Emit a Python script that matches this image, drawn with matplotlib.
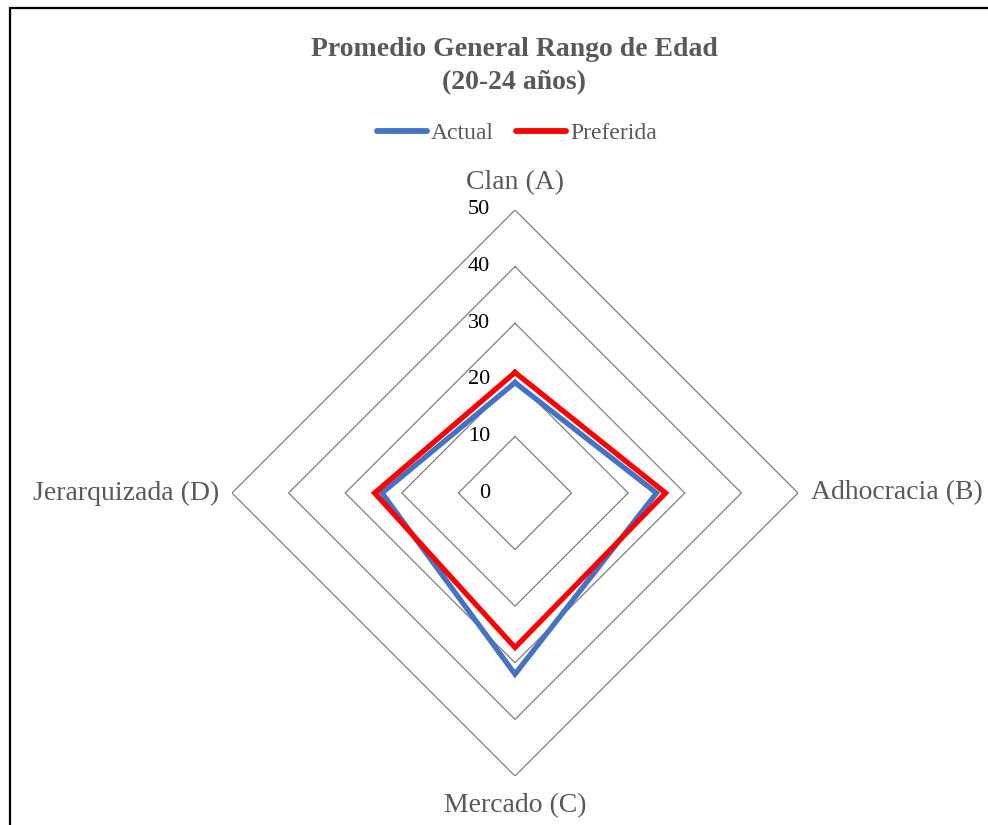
import numpy as np
import matplotlib
matplotlib.use("Agg")
import matplotlib.pyplot as plt
from matplotlib.lines import Line2D
from matplotlib.patches import Rectangle

categories = ["Clan (A)", "Adhocracia (B)", "Mercado (C)", "Jerarquizada (D)"]
actual = [19.5, 25, 32, 23.5]
preferida = [21.3, 26.6, 27.3, 24.8]
rticks = [0, 10, 20, 30, 40, 50]
title = "Promedio General Rango de Edad\n(20-24 años)"

plt.rcParams['font.family'] = ['Liberation Serif', 'DejaVu Serif']
gray = '#595959'

fig = plt.figure(figsize=(9.88, 8.25), dpi=100)
fig.patch.set_facecolor('white')

W, H = 988, 825
cx, cy, R = 515, 493, 283
ax = fig.add_axes([(cx - R) / W, (H - cy - R) / H, 2 * R / W, 2 * R / H], projection='polar')
ax.set_theta_offset(np.pi / 2)
ax.set_theta_direction(-1)
ax.set_ylim(0, 50)
ax.grid(False)
ax.spines['polar'].set_visible(False)
ax.set_xticks([])
ax.set_yticks([])
ax.patch.set_alpha(0)

n = len(categories)
angles = np.arange(n) * 2 * np.pi / n
ang_c = np.append(angles, angles[0])

for r in rticks[1:]:
    ax.plot(ang_c, [r] * (n + 1), color='#7f7f7f', lw=0.9, zorder=1)

for v in rticks:
    ax.annotate(str(v), xy=(0, v), xytext=(-18, 0), textcoords='offset points',
                ha='right', va='center', fontsize=16, color='black')

ax.plot(ang_c, actual + actual[:1], color='#4472C4', lw=3.8, zorder=3,
        solid_joinstyle='miter')
ax.plot(ang_c, preferida + preferida[:1], color='#FF0000', lw=3.8, zorder=4,
        solid_joinstyle='miter')

label_pos = [(54.8, 'center', 'center'), (52.3, 'left', 'center'),
             (55.3, 'center', 'center'), (52.3, 'right', 'center')]
for a, lab, (r, ha, va) in zip(angles, categories, label_pos):
    ax.text(a, r, lab, ha=ha, va=va, fontsize=20, color=gray, clip_on=False)

fig.text(514 / W, 1 - 66 / H, title, ha='center', va='center', fontsize=20,
         fontweight='bold', color=gray, linespacing=1.42)

handles = [Line2D([], [], color='#4472C4', lw=4.2, solid_capstyle='round'),
           Line2D([], [], color='#FF0000', lw=4.2, solid_capstyle='round')]
leg = fig.legend(handles, ['Actual', 'Preferida'], loc='center',
                 bbox_to_anchor=(517 / W, 1 - 133 / H), ncol=2, frameon=False,
                 fontsize=17, handlelength=2.1, handletextpad=0.17,
                 columnspacing=0.95)
for t in leg.get_texts():
    t.set_color(gray)

fig.patches.append(Rectangle((9.5 / W, -0.05), 1.1, 1.05 - 8 / H, fill=False,
                             lw=1.6, edgecolor='black', transform=fig.transFigure))

fig.savefig('out.png', dpi=100, facecolor='white')
